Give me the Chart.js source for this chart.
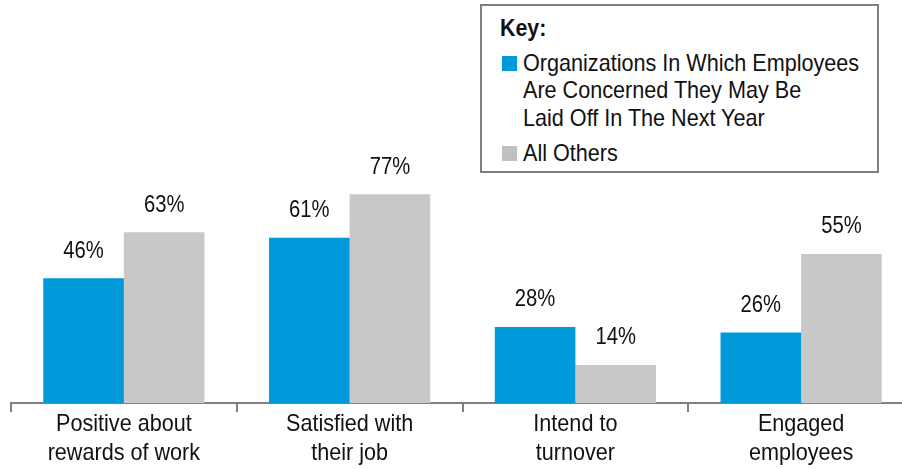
<!DOCTYPE html>
<html><head><meta charset="utf-8">
<script src="https://cdn.jsdelivr.net/npm/chart.js@4/dist/chart.umd.min.js"></script>
<style>
html,body{margin:0;padding:0;background:#fff;overflow:hidden;width:902px;height:469px}
#wrap{position:absolute;left:0;top:0;width:914px;height:469px}
#key{position:absolute;left:480px;top:4px;width:395px;height:165px;border:2px solid #7f7f7f;background:#fff;
 font-family:"Liberation Sans",Arial,sans-serif;color:#111;font-size:24px;}
#key .ln{position:absolute;white-space:nowrap;transform:scaleX(0.9);transform-origin:0 50%;line-height:27px}
#key .sw{position:absolute;left:20px;width:15px;height:15px}
</style></head><body>
<div id="wrap"><canvas id="c" width="914" height="469"></canvas></div>
<div id="key">
 <div class="ln" style="left:18px;top:9px;font-weight:bold;font-size:23px;transform:scaleX(0.93)">Key:</div>
 <div class="sw" style="top:50px;background:#0099D9"></div>
 <div class="ln" style="left:41px;top:43px">Organizations In Which Employees</div>
 <div class="ln" style="left:41px;top:70px">Are Concerned They May Be</div>
 <div class="ln" style="left:41px;top:98px">Laid Off In The Next Year</div>
 <div class="sw" style="top:140px;background:#C0C0C0"></div>
 <div class="ln" style="left:41px;top:133px">All Others</div>
</div>
<script>
const categories = [["Positive about","rewards of work"],["Satisfied with","their job"],["Intend to","turnover"],["Engaged","employees"]];
const seriesNames = ["Organizations In Which Employees Are Concerned They May Be Laid Off In The Next Year","All Others"];
const concernedValues = [46, 61, 28, 26];
const othersValues = [63, 77, 14, 55];

const FONT = '"Liberation Sans",Arial,sans-serif';

function narrowText(ctx, text, x, y, sx) {
  ctx.save();
  ctx.translate(x, y);
  ctx.scale(sx, 1);
  ctx.fillText(text, 0, 0);
  ctx.restore();
}

const labelPlugin = {
  id: 'valLabels',
  afterDatasetsDraw(chart) {
    const ctx = chart.ctx;
    ctx.save();
    ctx.font = '23px ' + FONT;
    ctx.fillStyle = '#111';
    ctx.textAlign = 'center';
    ctx.textBaseline = 'middle';
    chart.data.datasets.forEach((ds, i) => {
      chart.getDatasetMeta(i).data.forEach((bar, j) => {
        narrowText(ctx, ds.data[j] + '%', bar.x, bar.y - 27, 0.88);
      });
    });
    ctx.font = '24px ' + FONT;
    const xs = chart.scales.x;
    chart.data.labels.forEach((lab, j) => {
      const x = xs.getPixelForTick(j);
      lab.forEach((line, k) => {
        narrowText(ctx, line, x, xs.top + 21 + k * 29, 0.9);
      });
    });
    ctx.restore();
  }
};

new Chart(document.getElementById('c'), {
  type: 'bar',
  data: {
    labels: categories,
    datasets: [
      {label: seriesNames[0], data: concernedValues, backgroundColor: '#0099D9'},
      {label: seriesNames[1], data: othersValues, backgroundColor: '#C8C8C8'}
    ]
  },
  options: {
    responsive: false,
    animation: false,
    layout: {padding: {left: 11, right: 0, top: 132, bottom: 0}},
    plugins: {legend: {display: false}, tooltip: {enabled: false}},
    datasets: {bar: {categoryPercentage: 0.714, barPercentage: 1.0}},
    scales: {
      x: {
        grid: {display: true, drawOnChartArea: false, offset: true, color: '#808080', lineWidth: 2, tickLength: 9},
        border: {display: true, color: '#808080', width: 2},
        ticks: {display: false},
        afterFit(scale) { scale.height = 66; }
      },
      y: {display: false, min: 0, max: 100}
    }
  },
  plugins: [labelPlugin]
});
</script>
</body></html>
